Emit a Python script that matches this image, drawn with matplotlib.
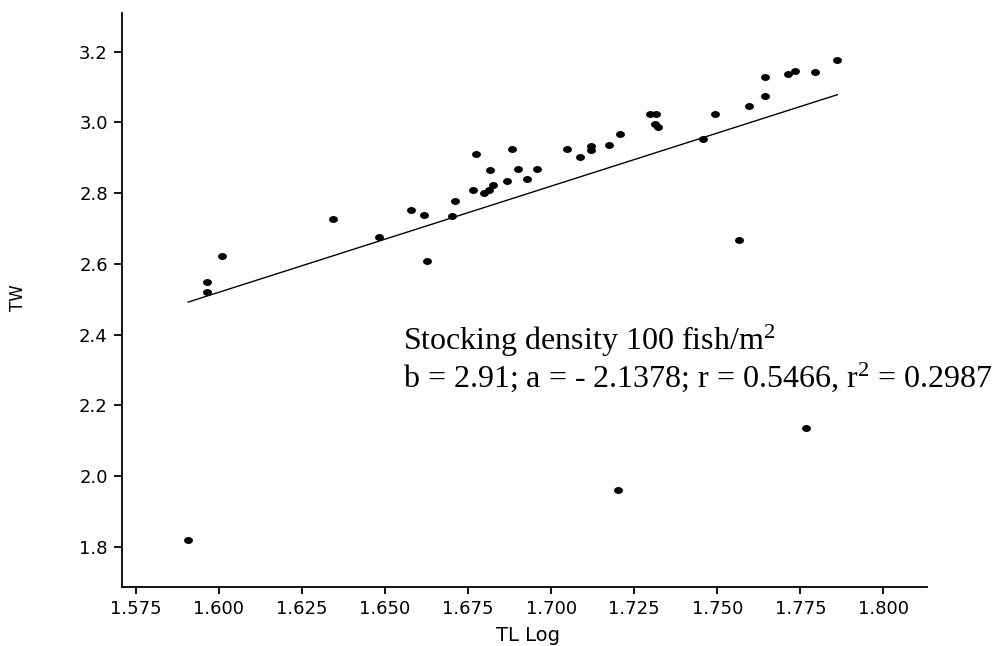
import matplotlib
matplotlib.use('Agg')
import matplotlib.pyplot as plt
from matplotlib.path import Path
from matplotlib.transforms import Affine2D
from matplotlib.ticker import FormatStrFormatter


# log total length vs log total weight
tl_log = [1.5908, 1.5965, 1.5965, 1.6010, 1.6344, 1.6483, 1.6579, 1.6617,
          1.6627, 1.6703, 1.6712, 1.6764, 1.6773, 1.6798, 1.6814, 1.6824,
          1.6815, 1.6867, 1.6883, 1.6901, 1.6926, 1.6958, 1.7048, 1.7088,
          1.7120, 1.7120, 1.7175, 1.7201, 1.7208, 1.7299, 1.7315, 1.7314,
          1.7323, 1.7456, 1.7493, 1.7565, 1.7594, 1.7643, 1.7643, 1.7712,
          1.7734, 1.7767, 1.7794, 1.7861]
tw = [1.820, 2.550, 2.520, 2.621, 2.726, 2.675, 2.753, 2.738,
      2.608, 2.734, 2.778, 2.810, 2.911, 2.799, 2.808, 2.822,
      2.866, 2.835, 2.924, 2.868, 2.839, 2.869, 2.924, 2.902,
      2.933, 2.921, 2.937, 1.962, 2.967, 3.023, 3.024, 2.996,
      2.988, 2.952, 3.023, 2.667, 3.045, 3.074, 3.129, 3.136,
      3.145, 2.137, 3.143, 3.175]

# fitted line at both ends of the data
fit_y = [2.492, 3.078]

xticks = [1.575, 1.600, 1.625, 1.650, 1.675, 1.700, 1.725, 1.750, 1.775, 1.800]
yticks = [1.8, 2.0, 2.2, 2.4, 2.6, 2.8, 3.0, 3.2]

line1 = 'Stocking density 100 fish/m$\\mathregular{^2}$'
line2 = 'b = 2.91; a = - 2.1378; r = 0.5466, r$\\mathregular{^2}$ = 0.2987'


fig = plt.figure(figsize=(9.92, 6.46), dpi=100)
ax = fig.add_axes([0.1227, 0.0909, 0.8121, 0.889])

# dots in the original are slightly wider than tall
dot = Path.unit_circle().transformed(Affine2D().scale(1.0, 0.78))
ax.plot(tl_log, tw, linestyle='none', marker=dot, ms=6.4,
        color='black', markeredgewidth=0)
ax.plot([min(tl_log), max(tl_log)], fit_y, color='black', lw=1.0)

ax.set_xlim(1.5708, 1.8132)
ax.set_ylim(1.686, 3.309)
ax.set_xticks(xticks)
ax.set_yticks(yticks)
ax.xaxis.set_major_formatter(FormatStrFormatter('%.3f'))
ax.yaxis.set_major_formatter(FormatStrFormatter('%.1f'))

for side in ['top', 'right']:
    ax.spines[side].set_visible(False)
for side in ['left', 'bottom']:
    ax.spines[side].set_linewidth(1.3)

ax.tick_params(axis='x', direction='out', length=5, width=1.3, pad=4,
               labelsize=13)
ax.tick_params(axis='y', direction='out', length=6, width=1.3, pad=4,
               labelsize=13)

fig.text(528 / 992, 5 / 646, 'TL Log', ha='center', va='baseline',
         fontsize=14)
fig.text(18 / 992, 1 - 298 / 646, 'TW', ha='center', va='center',
         rotation=90, fontsize=12)

fig.text(403 / 992, 1 - 350 / 646, line1, ha='left', va='baseline',
         family='Liberation Serif', fontsize=23)
fig.text(403 / 992, 1 - 387.3 / 646, line2, ha='left', va='baseline',
         family='Liberation Serif', fontsize=23)

fig.savefig('out.png', dpi=100)
